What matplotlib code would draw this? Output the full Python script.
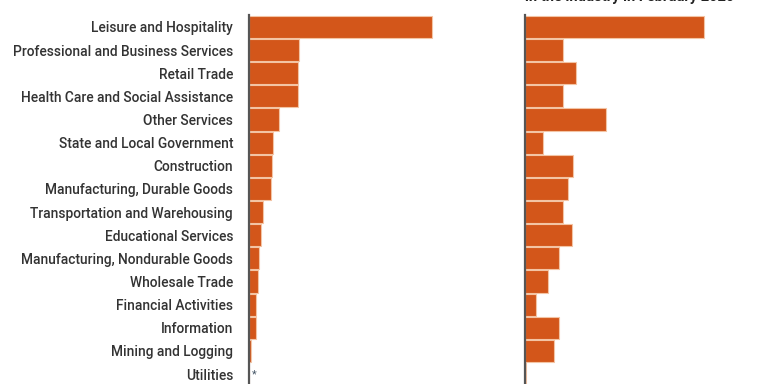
import numpy as np
import matplotlib.pyplot as plt

plt.rcParams['font.family'] = ['Roboto', 'DejaVu Sans']

# industries, top to bottom
industries = [
    "Leisure and Hospitality",
    "Professional and Business Services",
    "Retail Trade",
    "Health Care and Social Assistance",
    "Other Services",
    "State and Local Government",
    "Construction",
    "Manufacturing, Durable Goods",
    "Transportation and Warehousing",
    "Educational Services",
    "Manufacturing, Nondurable Goods",
    "Wholesale Trade",
    "Financial Activities",
    "Information",
    "Mining and Logging",
    "Utilities",
]

# jobs lost (millions)
jobs_lost = [8.2, 2.24, 2.2, 2.2, 1.35, 1.08, 1.03, 0.99, 0.63, 0.54,
             0.45, 0.40, 0.31, 0.31, 0.09, 0.0]

# jobs lost as a percent of employment in the industry in February 2020
pct_lost = [48.0, 10.2, 13.7, 10.2, 21.7, 4.8, 12.9, 11.5, 10.2, 12.6,
            9.1, 6.2, 2.9, 9.1, 7.8, 0.3]

bar_color = '#d3561a'
edge_color = '#f3c4a4'
text_color = '#333333'

fig = plt.figure(figsize=(7.68, 3.84), dpi=100)
W, H = 768, 384

ax1 = fig.add_axes([249 / W, -1.6 / H, 251 / W, 370.2 / H])
ax2 = fig.add_axes([525 / W, -1.6 / H, 243 / W, 370.2 / H])

y = np.arange(len(industries))

ax1.barh(y, jobs_lost, height=0.96, color=bar_color, edgecolor=edge_color, linewidth=0.8)
ax2.barh(y, pct_lost, height=0.96, color=bar_color, edgecolor=edge_color, linewidth=0.8)

# pixel scales
ax1.set_xlim(0, 8.2 * 251 / 183)
ax2.set_xlim(0, 48.0 * 243 / 179)

for ax in (ax1, ax2):
    ax.set_ylim(len(industries) - 0.5, -0.5)
    for s in ('top', 'right', 'bottom'):
        ax.spines[s].set_visible(False)
    ax.spines['left'].set_color('#555555')
    ax.spines['left'].set_linewidth(1.6)
    ax.set_xticks([])
    ax.tick_params(axis='y', length=0)

ax1.set_yticks(y)
ax1.set_yticklabels(industries, fontsize=9.9, color=text_color, fontweight=500)
ax1.tick_params(axis='y', pad=11.5)
ax2.set_yticks([])

# asterisk for Utilities
ax1.text(0.12, y[-1], "*", fontsize=8, color='#445566', va='center', ha='left')

# panel title (mostly cut off at the top edge)
fig.text(525 / W, 1 - 1.5 / H, "in the industry in February 2020", fontsize=10.5,
         fontweight='bold', color='#222222', ha='left', va='baseline')

fig.savefig('out.png', dpi=100)
